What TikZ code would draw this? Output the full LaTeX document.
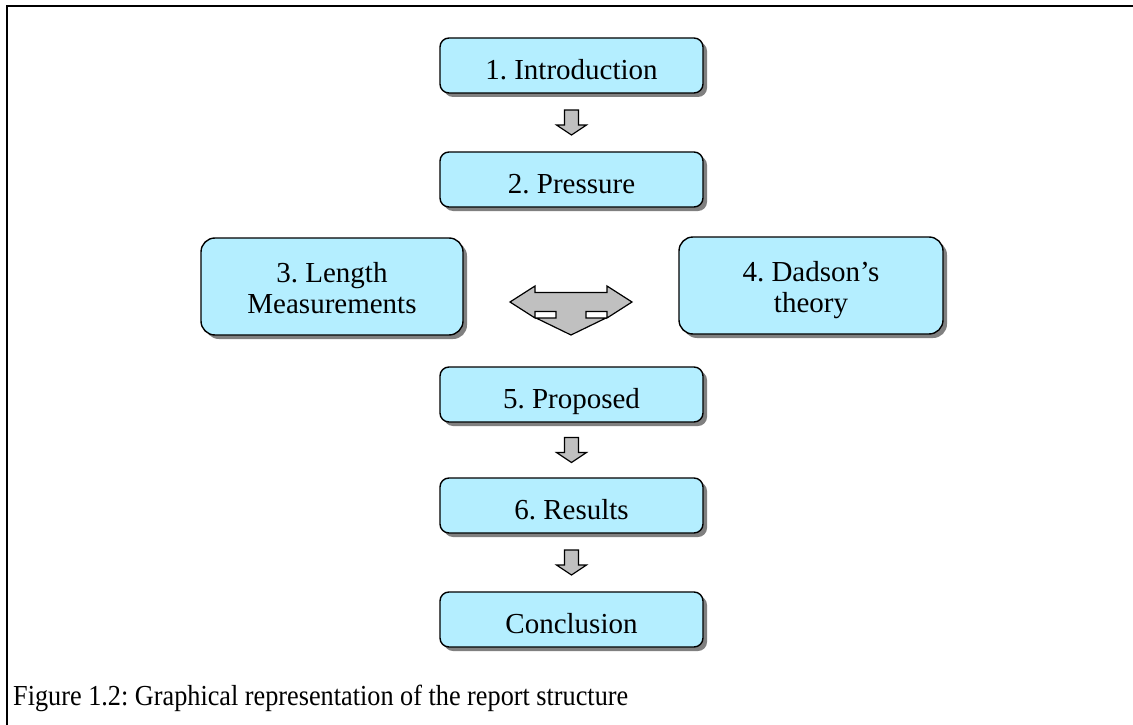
\documentclass[tikz,border=0pt]{standalone}
\usepackage{fontspec}
\setmainfont{Liberation Serif}
\usetikzlibrary{shadows,calc}
\definecolor{boxcyan}{RGB}{180,238,255}
\definecolor{arrowgray}{RGB}{192,192,192}
\definecolor{shadowgray}{RGB}{128,128,128}
\newcommand{\topline}{\rule{0pt}{29pt}}
\newcommand{\botline}{\rule[-7pt]{0pt}{7pt}}
\tikzset{
  stagebox/.style={draw=black, line width=1.4pt, fill=boxcyan, rounded corners=9pt,
    drop shadow={shadow xshift=4pt, shadow yshift=-4pt, fill=shadowgray, opacity=1},
    font=\fontsize{29}{31}\selectfont, align=center, inner sep=0pt},
  smallbox/.style={stagebox, minimum width=263pt, minimum height=55pt, text height=30pt, text depth=2pt},
  bigbox/.style={stagebox, minimum height=97pt, rounded corners=14pt},
  blockarrow/.style={draw=black, line width=1.2pt, fill=arrowgray, line join=miter},
  downarrow/.pic={\path[blockarrow] (-7,-12.5) -- (7,-12.5) -- (7,2.5) -- (15,2.5) -- (0,12.5) -- (-15,2.5) -- (-7,2.5) -- cycle;},
  teearrow/.pic={\path[blockarrow] (-61,0) -- (-36,-16) -- (-36,-9.5) -- (36,-9.5) -- (36,-16) -- (61,0) -- (36,16) -- (36,9.5)
     -- (15,9.5) -- (15,16) -- (35,16) -- (0,33) -- (-35,16) -- (-15,16) -- (-15,9.5) -- (-36,9.5) -- (-36,16) -- cycle;}
}
\frenchspacing
\begin{document}
\begin{tikzpicture}[x=1pt, y=-1pt]
\useasboundingbox (0,0) rectangle (1133,725);
% frame
\draw[line width=2pt] (7,725) -- (7,6) -- (1133,6);
% boxes
\node[smallbox] (b1) at (571.5,65.5) {1. Introduction};
\node[smallbox] (b2) at (571.5,179.5) {2. Pressure};
\node[bigbox, minimum width=262pt] (b3) at (332,286.5) {\topline 3. Length\\Measurements\botline};
\node[bigbox, minimum width=264pt] (b4) at (811,285.5) {\topline 4. Dadson’s\\theory\botline};
\node[smallbox] (b5) at (571.5,394.5) {5. Proposed};
\node[smallbox] (b6) at (571.5,505.5) {6. Results};
\node[smallbox] (b7) at (571.5,619.5) {Conclusion};
% arrows
\path ($(b1.south)!0.5!(b2.north)$) pic {downarrow};
\path ($(b5.south)!0.5!(b6.north)$) pic {downarrow};
\path ($(b6.south)!0.5!(b7.north)$) pic {downarrow};
\coordinate (tee) at ($($(b3.east)!0.5!(b4.west)$)+(0,16)$);
\path (tee) pic {teearrow};
% caption
\node[anchor=base west, inner sep=0pt, font=\fontsize{29}{32}\selectfont] (cap) at (13,705)
  {\resizebox{615pt}{\height}{Figure 1.2: Graphical representation of the report structure}};
\end{tikzpicture}
\end{document}
